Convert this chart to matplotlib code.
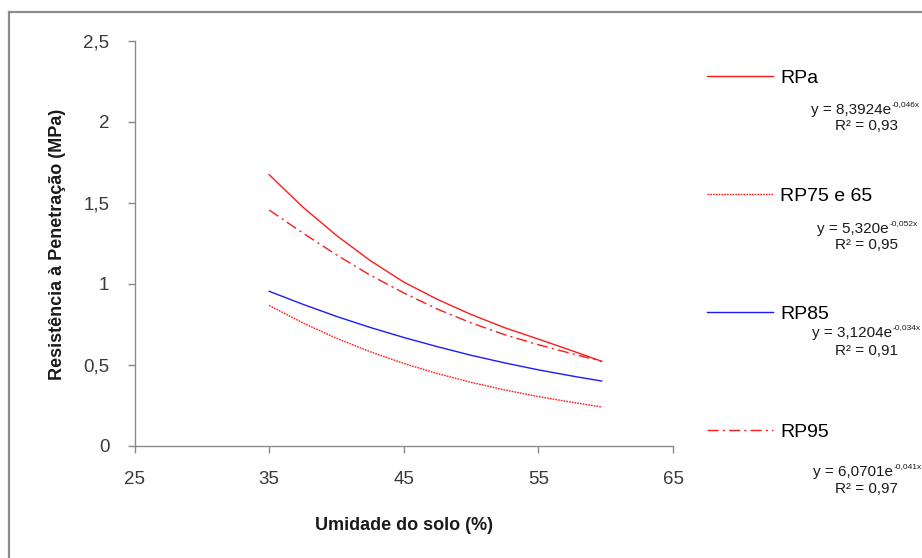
import matplotlib
matplotlib.use("Agg")
import matplotlib.pyplot as plt
from matplotlib.lines import Line2D

# values
umidade = [35, 37.5, 40, 42.5, 45, 47.5, 50, 52.5, 55, 57.5, 59.7]
rpa = [1.675, 1.475, 1.300, 1.145, 1.012, 0.905, 0.812, 0.730, 0.660, 0.588, 0.523]
rp75_65 = [0.868, 0.760, 0.665, 0.582, 0.510, 0.447, 0.393, 0.346, 0.305, 0.270, 0.241]
rp85 = [0.955, 0.875, 0.800, 0.732, 0.670, 0.613, 0.560, 0.513, 0.470, 0.432, 0.401]
rp95 = [1.457, 1.315, 1.180, 1.055, 0.945, 0.845, 0.760, 0.687, 0.625, 0.570, 0.523]

series_names = ["RPa", "RP75 e 65", "RP85", "RP95"]
equations = [("y = 8,3924e", "-0,046x", "R² = 0,93"),
             ("y = 5,320e", "-0,052x", "R² = 0,95"),
             ("y = 3,1204e", "-0,034x", "R² = 0,91"),
             ("y = 6,0701e", "-0,041x", "R² = 0,97")]

x_ticks = [25, 35, 45, 55, 65]
y_ticks = [0, 0.5, 1, 1.5, 2, 2.5]
y_tick_labels = ["0", "0,5", "1", "1,5", "2", "2,5"]

plt.rcParams['font.family'] = ['Liberation Sans', 'DejaVu Sans']

W, H = 922, 558
fig = plt.figure(figsize=(W / 100, H / 100), dpi=100)


def fx(px):
    return px / W


def fy(py):
    return 1 - py / H


ax = fig.add_axes([fx(134.5), fy(446), fx(673) - fx(134.5), fy(41) - fy(446)])

red = '#ff1a1a'
blue = '#1a1aff'
ax.plot(umidade, rpa, color=red, lw=1.0, label=series_names[0])
ax.plot(umidade, rp75_65, color=red, lw=1.0, ls=(0, (1.2, 0.8)), label=series_names[1])
ax.plot(umidade, rp85, color=blue, lw=1.0, label=series_names[2])
ax.plot(umidade, rp95, color=red, lw=1.0, ls=(0, (8, 3, 1.5, 3)), label=series_names[3])

ax.set_xlim(25, 65)
ax.set_ylim(0, 2.5)
ax.set_xticks(x_ticks)
ax.set_yticks(y_ticks)
ax.set_yticklabels(y_tick_labels)

for side in ['top', 'right']:
    ax.spines[side].set_visible(False)
for side in ['left', 'bottom']:
    ax.spines[side].set_color('#8a8a8a')
    ax.spines[side].set_linewidth(1.0)
ax.tick_params(axis='both', direction='out', length=5, width=1.0, color='#8a8a8a',
               labelsize=13.5, labelcolor='#3a3a3a', pad=13)

fig.text(fx(404), fy(525), "Umidade do solo (%)", ha='center', va='center',
         fontsize=13, fontweight='bold', color='#1a1a1a')
fig.text(fx(57), fy(244), "Resistência à Penetração (MPa)", ha='center', va='center',
         rotation=90, fontsize=13, fontweight='bold', color='#1a1a1a')

fig.legend(loc='upper left', bbox_to_anchor=(fx(707), fy(69)), frameon=False,
           fontsize=14, labelspacing=5.17, handlelength=3.4, handletextpad=0.36,
           borderpad=0, borderaxespad=0)

# trendline equations
eq_rows = [(891, 110, 126), (889, 229, 245), (892, 333, 351), (893, 472, 489)]
for (base, sup, r2), (xe, ye, yr) in zip(equations, eq_rows):
    fig.text(fx(xe), fy(ye), base, ha='right', va='center', fontsize=11, color='#1a1a1a')
    fig.text(fx(xe + 0.5), fy(ye - 5), sup, ha='left', va='center', fontsize=6, color='#1a1a1a')
    fig.text(fx(866), fy(yr), r2, ha='center', va='center', fontsize=11, color='#1a1a1a')

# outer chart border (cut off on the right and bottom)
fig.add_artist(Line2D([fx(9), fx(9)], [fy(12), 0], color='#8c8c8c', lw=1.6))
fig.add_artist(Line2D([fx(9), 1], [fy(12), fy(12)], color='#8c8c8c', lw=1.6))

fig.savefig("out.png", dpi=100)
